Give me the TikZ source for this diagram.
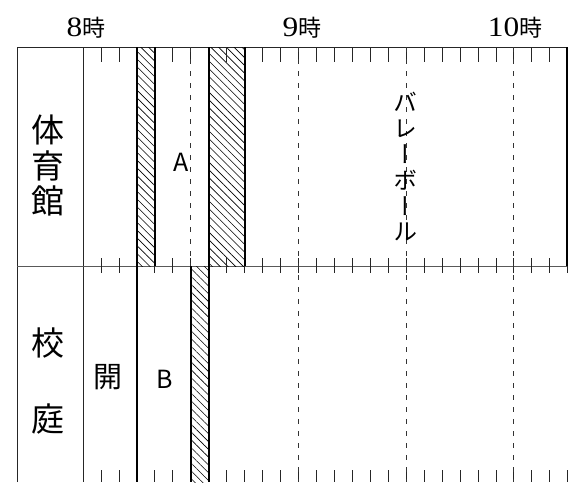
\documentclass[tikz,border=0pt]{standalone}
\usepackage{fontspec}
\newfontfamily\jp{Noto Sans CJK JP}
\newfontfamily\jpvert[RawFeature=+vert]{Noto Sans CJK JP}
\newfontfamily\digitfont{Liberation Serif}
\usetikzlibrary{patterns.meta}
\newcommand\hourlbl[1]{{\digitfont\fontsize{28}{28}\selectfont\scalebox{1.12}[1]{#1}}{\jp\fontsize{23}{23}\selectfont 時}}
\begin{document}
\begin{tikzpicture}[x=1pt,y=-1pt,
  frame/.style={line width=0.8pt, black!85},
  midline/.style={line width=0.6pt, black!65},
  tick/.style={line width=0.7pt, black!85},
  halfline/.style={line width=0.7pt, black!80, dash pattern=on 5pt off 7pt},
  hatchbox/.style={pattern={Lines[angle=-45,distance=5.5pt,line width=0.6pt]}},
  thickline/.style={line width=2pt},
  timelbl/.style={inner sep=0pt, anchor=base},
  rowlbl/.style={inner sep=0pt, align=center},
  actlbl/.style={inner sep=0pt, font=\jp\fontsize{25}{25}\selectfont}]
\useasboundingbox (0,0) rectangle (573,482);

% frame
\draw[frame] (17,482) -- (17,47) -- (567,47);
\draw[frame] (83,47) -- (83,482);
\draw[midline] (17,266) -- (567,266);

% hatched boxes
\fill[hatchbox] ({83+17.95*3},47) rectangle ({83+17.95*4},266);
\fill[hatchbox] ({83+17.95*7},47) rectangle ({83+17.95*9},266);
\fill[hatchbox] ({83+17.95*6},266) rectangle ({83+17.95*7},482);

% ticks every 5 minutes
\foreach \k in {1,...,26} {
  \draw[tick] ({83+17.95*\k},47) -- ++(0,15);
}
\foreach \k in {1,...,27} {
  \draw[tick] ({83+17.95*\k},258) -- ++(0,15);
  \draw[tick] ({83+17.95*\k},470) -- ++(0,12);
}

% half-hour dashed lines
\draw[halfline] ({83+17.95*6},47) -- ({83+17.95*6},266);
\foreach \k in {12,18,24} {
  \draw[halfline] ({83+17.95*\k},47) -- ({83+17.95*\k},482);
}

% thick borders
\draw[thickline] ({83+17.95*3},47) -- ({83+17.95*3},482);
\draw[thickline] ({83+17.95*4},47) -- ({83+17.95*4},266);
\draw[thickline] ({83+17.95*7},47) -- ({83+17.95*7},266);
\draw[thickline] ({83+17.95*9},47) -- ({83+17.95*9},266);
\draw[thickline] ({83+17.95*6},266) -- ({83+17.95*6},482);
\draw[thickline] ({83+17.95*7},266) -- ({83+17.95*7},482);
\draw[line width=2.4pt] (567,47) -- (567,266);

% time labels
\node[timelbl] (t8) at (86,36) {\hourlbl{8}};
\node[timelbl] (t9) at (302,36) {\hourlbl{9}};
\node[timelbl] (t10) at (515,36) {\hourlbl{10}};

% row labels
\node[rowlbl, font=\jp\fontsize{33}{35.5}\selectfont] (gym) at (48,166) {体\\育\\館};
\node[rowlbl, font=\jp\fontsize{33}{76}\selectfont] (yard) at (48,381) {校\\庭};

% activity labels
\node[inner sep=0pt, font=\jp\fontsize{29}{29}\selectfont] (open) at (108,377) {開};
\node[actlbl] (a) at (181,162) {A};
\node[actlbl] (b) at (165,379) {B};
\node[rowlbl, font=\jpvert\fontsize{24}{25.8}\selectfont] (volley) at (405,167) {バ\\レ\\ー\\ボ\\ー\\ル};
\end{tikzpicture}
\end{document}
